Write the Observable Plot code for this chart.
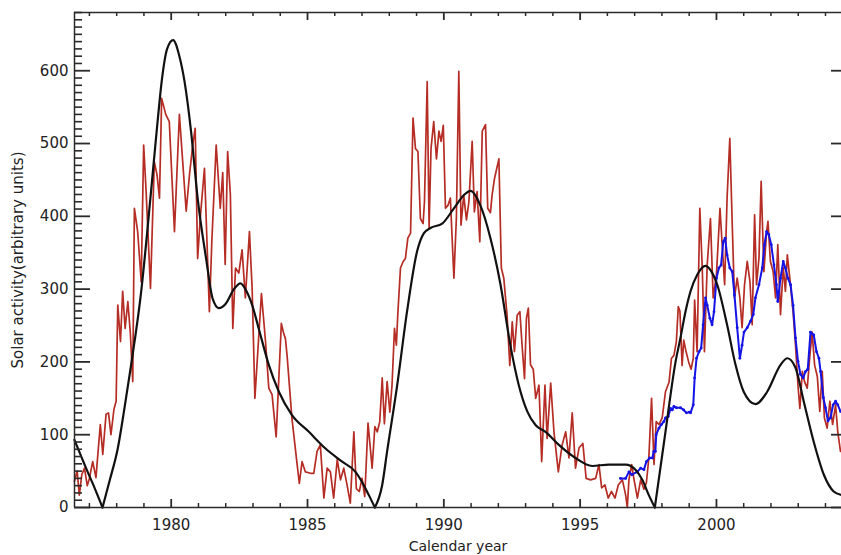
<!DOCTYPE html>
<html><head><meta charset="utf-8">
<script src="https://cdn.jsdelivr.net/npm/d3@7"></script>
<script src="https://cdn.jsdelivr.net/npm/@observablehq/plot@0.6"></script>
<style>html,body{margin:0;padding:0;background:#fff;} #chart svg{display:block;}</style>
</head><body><div id="chart"></div>
<script>
// ---- Data ----
const redYear = [1976.45,1976.55,1976.63,1976.72,1976.82,1976.92,1977.0,1977.12,1977.24,1977.4,1977.49,1977.61,1977.7,1977.79,1977.9,1977.98,
1978.04,1978.14,1978.22,1978.31,1978.41,1978.5,1978.59,1978.65,1978.77,1978.9,1978.99,1979.08,1979.24,1979.38,1979.48,1979.57,1979.65,1979.8,1979.93,
1980.12,1980.3,1980.55,1980.67,1980.79,1980.88,1980.97,1981.07,1981.22,1981.4,1981.49,1981.65,1981.8,1981.89,1981.98,1982.07,1982.17,1982.26,1982.36,1982.48,1982.6,1982.72,1982.87,1982.97,
1983.07,1983.31,1983.46,1983.58,1983.7,1983.85,1984.04,1984.12,1984.19,1984.25,1984.43,1984.62,1984.7,1984.8,1984.92,1985.11,1985.23,1985.35,1985.47,1985.6,1985.72,1985.84,1985.96,
1986.09,1986.21,1986.33,1986.45,1986.57,1986.7,1986.79,1986.9,1987.0,1987.1,1987.22,1987.37,1987.47,1987.56,1987.65,1987.74,1987.82,1987.92,1988.02,1988.1,1988.19,1988.26,1988.31,1988.41,
1988.51,1988.59,1988.68,1988.78,1988.87,1988.96,1989.05,1989.14,1989.24,1989.29,1989.39,1989.46,1989.53,1989.63,1989.73,1989.82,1989.9,1989.98,1990.06,1990.15,1990.24,1990.37,1990.46,
1990.55,1990.63,1990.73,1990.83,1990.92,1991.04,1991.12,1991.22,1991.32,1991.41,1991.53,1991.61,1991.71,1991.77,1991.86,1992.02,1992.11,1992.2,1992.32,1992.42,1992.51,1992.59,1992.69,
1992.79,1992.87,1992.96,1993.03,1993.1,1993.18,1993.28,1993.37,1993.49,1993.59,1993.71,1993.79,1993.92,1994.04,1994.2,1994.34,1994.47,1994.59,1994.71,1994.83,1994.96,1995.1,1995.22,
1995.38,1995.57,1995.69,1995.79,1995.91,1996.03,1996.15,1996.28,1996.4,1996.55,1996.67,1996.73,1996.79,1996.89,1996.97,1997.1,1997.22,1997.34,1997.43,1997.52,1997.62,1997.71,1997.79,
1997.89,1998.01,1998.13,1998.26,1998.35,1998.44,1998.53,1998.6,1998.66,1998.74,1998.8,1998.88,1998.98,1999.07,1999.15,1999.2,1999.29,1999.39,1999.48,1999.56,1999.66,1999.78,1999.88,
2000.0,2000.13,2000.21,2000.3,2000.39,2000.49,2000.58,2000.66,2000.76,2000.86,2000.94,2001.03,2001.13,2001.23,2001.31,2001.4,2001.47,2001.56,2001.64,2001.74,2001.84,2001.89,2001.98,
2002.08,2002.17,2002.25,2002.35,2002.45,2002.53,2002.6,2002.69,2002.81,2002.9,2002.99,2003.06,2003.15,2003.23,2003.33,2003.43,2003.51,2003.6,2003.7,2003.79,2003.88,2003.96,
2004.06,2004.16,2004.26,2004.37,2004.45,2004.55];
const redValue = [36,50,17,45,54,30,40,63,41,114,73,128,130,100,135,146,
278,228,297,246,283,240,173,411,379,310,498,434,301,475,457,425,562,540,530,
379,540,407,457,498,521,342,400,466,269,365,498,411,460,334,489,430,246,329,322,354,288,379,300,
150,294,228,164,155,97,253,240,232,209,122,59,33,63,49,47,47,77,86,13,54,49,13,
66,38,54,31,6,104,26,22,40,15,116,54,111,104,118,178,115,173,131,168,246,223,264,329,
338,342,370,377,535,493,489,397,390,420,585,384,493,530,479,517,503,525,411,415,425,315,397,
599,388,429,395,420,503,406,434,365,517,526,411,405,429,452,479,329,315,264,195,255,214,264,
269,223,177,260,274,196,190,150,168,63,168,95,171,104,49,86,104,68,130,54,82,88,40,
38,40,59,27,31,13,22,13,31,38,17,0,38,59,40,13,38,25,34,68,150,59,118,
114,123,159,172,205,209,228,276,270,195,230,215,200,190,205,285,214,411,329,214,333,397,288,
320,411,361,306,425,507,388,288,315,288,247,306,338,310,251,402,306,343,448,324,379,393,338,
324,288,361,265,330,297,347,315,269,223,168,136,187,173,164,210,241,196,180,132,187,123,
109,146,114,141,104,77];

const blueYear = [1996.48,1996.67,1996.79,1996.9,1997.09,1997.22,1997.34,1997.43,1997.55,1997.65,1997.7,1997.76,1997.79,1997.89,1997.98,1998.07,1998.13,1998.23,1998.32,1998.38,1998.44,
1998.53,1998.68,1998.8,1998.9,1999.0,1999.05,1999.15,1999.2,1999.27,1999.36,1999.44,1999.51,1999.6,1999.66,1999.76,1999.84,1999.91,2000.0,2000.09,2000.17,2000.25,2000.32,2000.39,
2000.49,2000.58,2000.66,2000.76,2000.86,2000.94,2001.01,2001.13,2001.25,2001.35,2001.43,2001.56,2001.68,2001.76,2001.84,2001.92,2002.01,2002.11,2002.2,2002.25,2002.35,2002.45,
2002.53,2002.62,2002.72,2002.81,2002.9,2002.99,2003.08,2003.18,2003.27,2003.35,2003.45,2003.57,2003.67,2003.76,2003.82,2003.92,2004.0,2004.09,2004.18,2004.28,2004.37,2004.45,2004.55];
const blueValue = [40,40,49,45,49,54,52,63,68,68,77,77,100,109,114,118,123,125,136,134,139,
137,137,134,130,131,130,141,178,205,214,219,251,288,278,260,251,269,315,329,333,365,370,347,
329,324,292,247,205,223,241,247,256,265,288,306,329,361,379,375,361,333,306,283,315,338,
329,315,306,278,233,201,183,178,187,190,241,237,214,205,187,151,137,119,123,141,146,141,132];

const blackYear = [1976.45,1976.9,1977.2,1977.48,1977.75,1978.04,1978.3,1978.53,1978.9,1979.26,1979.5,1979.65,1979.85,1980.07,1980.3,1980.49,1980.73,1980.97,1981.28,1981.52,1981.75,
1982.0,1982.3,1982.54,1982.75,1982.97,1983.21,1983.58,1983.95,1984.43,1985.05,1985.66,1986.27,1986.76,1987.0,1987.25,1987.47,1987.74,1987.92,1988.29,1988.65,1989.02,1989.27,1989.51,
1989.94,1990.37,1990.73,1990.98,1991.34,1991.71,1992.08,1992.44,1992.75,1993.06,1993.37,1993.73,1994.22,1994.83,1995.44,1996.06,1996.67,1997.03,1997.28,1997.52,1997.74,1998.13,
1998.5,1998.68,1998.87,1999.05,1999.3,1999.6,1999.85,2000.03,2000.39,2000.7,2001.0,2001.43,2001.86,2002.35,2002.6,2002.9,2003.2,2003.57,2003.94,2004.3,2004.59];
const blackValue = [93,52,26,0,38,81,140,196,297,434,530,585,630,642,620,585,516,425,342,287,274,
280,300,308,298,278,246,196,159,127,104,81,63,49,35,17,0,31,77,168,269,352,377,384,
390,411,429,435,415,370,306,223,168,132,113,104,86,68,57,59,59,52,38,17,0,104,
200,233,270,297,320,332,322,306,251,196,159,142,159,196,205,192,146,90,45,22,17];

const xTickLabels = [1980, 1985, 1990, 1995, 2000];
const xMinorTicks = [1977,1978,1979,1981,1982,1983,1984,1986,1987,1988,1989,1991,1992,1993,1994,1996,1997,1998,1999,2001,2002,2003,2004];
const yTickLabels = [0, 100, 200, 300, 400, 500, 600];
const yMinorTicks = d3.range(0, 681, 10).filter(v => v % 100 !== 0);

// ---- Layout ----
const W = 841, H = 555, mL = 74, mR = 0, mT = 12, mB = 48;
const plotW = W - mL - mR, plotH = H - mT - mB;
const xDomain = [1976.453, 2004.587];
const yDomain = [0, 680];

const red = redYear.map((x, i) => ({x, y: redValue[i]}));
const blue = blueYear.map((x, i) => ({x, y: blueValue[i]}));
// split black curve into cycles at its zero points (sharp minima)
const black = [];
let seg = 0;
blackYear.forEach((x, i) => {
  const y = blackValue[i];
  black.push({x, y, seg});
  if (y === 0 && i > 0 && i < blackYear.length - 1) { seg++; black.push({x, y, seg}); }
});

const axisColor = "#2a2a2a";
const chart = Plot.plot({
  width: W, height: H,
  marginLeft: mL, marginRight: mR, marginTop: mT, marginBottom: mB,
  x: {domain: xDomain},
  y: {domain: yDomain},
  style: {fontFamily: "DejaVu Sans", fontSize: "15px", color: "#222", background: "#fff"},
  marks: [
    Plot.line(red, {x: "x", y: "y", stroke: "#b52d25", strokeWidth: 1.7, strokeLinejoin: "round"}),
    Plot.line(blue, {x: "x", y: "y", stroke: "#1414e6", strokeWidth: 2}),
    Plot.dot(blue, {x: "x", y: "y", r: 1.4, fill: "#1414e6"}),
    Plot.line(black, {x: "x", y: "y", z: "seg", stroke: "#111", strokeWidth: 2.2, curve: "monotone-x"}),
    // frame (left, bottom, top)
    Plot.ruleX([xDomain[0]], {stroke: axisColor, strokeWidth: 1.5}),
    Plot.ruleY([yDomain[0], yDomain[1]], {stroke: axisColor, strokeWidth: 1.5}),
    // x ticks, bottom and top, pointing inward
    Plot.ruleX(xTickLabels, {insetTop: plotH - 8, stroke: axisColor, strokeWidth: 1.8}),
    Plot.ruleX(xTickLabels, {insetBottom: plotH - 8, stroke: axisColor, strokeWidth: 1.8}),
    Plot.ruleX(xMinorTicks, {insetTop: plotH - 4, stroke: axisColor, strokeWidth: 1.5}),
    Plot.ruleX(xMinorTicks, {insetBottom: plotH - 4, stroke: axisColor, strokeWidth: 1.5}),
    // y ticks, left (major+minor) and right (major)
    Plot.ruleY(yTickLabels, {insetRight: plotW - 16, stroke: axisColor, strokeWidth: 1.8}),
    Plot.ruleY(yMinorTicks, {insetRight: plotW - 8, stroke: axisColor, strokeWidth: 1.6}),
    Plot.ruleY(yTickLabels, {insetLeft: plotW - 10, stroke: axisColor, strokeWidth: 1.8}),
    // tick labels
    Plot.axisX(xTickLabels, {tickSize: 0, tickPadding: 12, tickFormat: d => String(d), label: null}),
    Plot.axisY(yTickLabels, {tickSize: 0, tickPadding: 6, tickFormat: d => String(d), label: null}),
    // axis titles
    Plot.text(["Calendar year"], {text: d => d, frameAnchor: "bottom", dy: 39, fontSize: 14, lineAnchor: "middle", textAnchor: "middle"}),
    Plot.text(["Solar activity(arbitrary units)"], {text: d => d, frameAnchor: "left", dx: -56, rotate: -90, fontSize: 15, lineAnchor: "middle", textAnchor: "middle"})
  ]
});
document.getElementById("chart").append(chart);
</script>
</body></html>
